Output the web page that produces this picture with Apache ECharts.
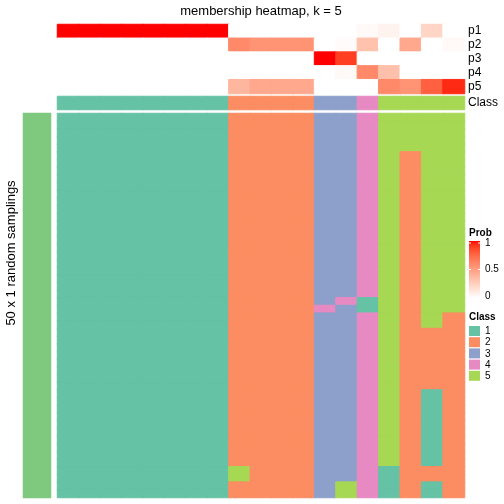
<!DOCTYPE html>
<html>
<head>
<meta charset="utf-8">
<script src="https://cdn.jsdelivr.net/npm/echarts@6/dist/echarts.min.js"></script>
<style>html,body{margin:0;padding:0;background:#fff;}#c{width:504px;height:504px;}</style>
</head>
<body>
<div id="c"></div>
<script>
// ---- data ----
const samples = ['1','2','3','4','5','6','7','8','9','10','11','12','13','14','15','16','17','18','19'];
const probNames = ['p1','p2','p3','p4','p5'];
const p1 = [1,1,1,1,1,1,1,1,0,0,0,0,0,0,0.03,0.06,0,0.22,0];
const p2 = [0,0,0,0,0,0,0,0,0.6,0.55,0.55,0.55,0,0.02,0.32,0,0.45,0,0.03];
const p3 = [0,0,0,0,0,0,0,0,0,0,0,0,1,0.9,0,0,0,0,0];
const p4 = [0,0,0,0,0,0,0,0,0,0,0,0,0,0.03,0.6,0.33,0,0,0];
const p5 = [0,0,0,0,0,0,0,0,0.38,0.45,0.45,0.45,0,0,0,0.6,0.55,0.78,0.95];
const classTop = [1,1,1,1,1,1,1,1,2,2,2,2,3,3,4,5,5,5,5];
const classLevels = ['1','2','3','4','5'];
// 50 random samplings (rows) x 19 samples (cols), class per cell
const membership = [
'1111111122223345555','1111111122223345555','1111111122223345555','1111111122223345555','1111111122223345555',
'1111111122223345255','1111111122223345255','1111111122223345255','1111111122223345255','1111111122223345255',
'1111111122223345255','1111111122223345255','1111111122223345255','1111111122223345255','1111111122223345255',
'1111111122223345255','1111111122223345255','1111111122223345255','1111111122223345255','1111111122223345255',
'1111111122223345255','1111111122223345255','1111111122223345255','1111111122223345255',
'1111111122223415255',
'1111111122224315255',
'1111111122223345252','1111111122223345252',
'1111111122223345222','1111111122223345222','1111111122223345222','1111111122223345222',
'1111111122223345222','1111111122223345222','1111111122223345222','1111111122223345222',
'1111111122223345212','1111111122223345212','1111111122223345212','1111111122223345212','1111111122223345212',
'1111111122223345212','1111111122223345212','1111111122223345212','1111111122223345212','1111111122223345212',
'1111111152223341222','1111111152223341222',
'1111111122223541212','1111111122223541212'
];
const rowNames = membership.map((_, i) => 'r' + (i + 1));
const leftAnno = ['top 1000 rows'];
const probTicks = ['1', '0.5', '0'];

// ---- styles ----
const classColors = ['#66C2A5', '#FC8D62', '#8DA0CB', '#E78AC3', '#A6D854'];
function lab2hex(L, a, b) {
  const fy = (L + 16) / 116, fx = fy + a / 500, fz = fy - b / 200;
  const d = 6 / 29;
  const fi = t => t > d ? t * t * t : 3 * d * d * (t - 4 / 29);
  const X = 0.95047 * fi(fx), Y = fi(fy), Z = 1.08883 * fi(fz);
  let r = 3.2406 * X - 1.5372 * Y - 0.4986 * Z;
  let g = -0.9689 * X + 1.8758 * Y + 0.0415 * Z;
  let bb = 0.0557 * X - 0.2040 * Y + 1.0570 * Z;
  const gm = c => { c = c <= 0.0031308 ? 12.92 * c : 1.055 * Math.pow(c, 1 / 2.4) - 0.055; return Math.max(0, Math.min(255, Math.round(c * 255))); };
  return '#' + [gm(r), gm(g), gm(bb)].map(v => v.toString(16).padStart(2, '0')).join('');
}
function probColor(t) { return lab2hex(100 + (53.2408 - 100) * t, 80.0925 * t, 67.2032 * t); }
const ramp = [];
for (let i = 0; i <= 20; i++) ramp.push(probColor(i / 20));

// ---- build series data (edge stroke = fill colour, hides anti-alias seams) ----
const probRows = [p1, p2, p3, p4, p5];
const probData = [];
probRows.forEach((row, r) => row.forEach((v, c) => probData.push({ value: [c, r, v], itemStyle: { borderColor: probColor(v), borderWidth: 1 } })));
const classTopData = classTop.map((v, c) => ({ value: [c, 0, v], itemStyle: { borderColor: classColors[v - 1], borderWidth: 1 } }));
const mainData = [];
membership.forEach((s, r) => s.split('').forEach((ch, c) => {
  const v = Number(ch);
  mainData.push({ value: [c, r, v], itemStyle: { borderColor: classColors[v - 1], borderWidth: 1 } });
}));

// grids are inset by half a pixel to compensate for the 1px edge stroke
const L = 57.5, W = 407;
const font = 'Liberation Sans, Arial, Helvetica, sans-serif';
function catAxis(idx, data, inverse) {
  return { type: 'category', gridIndex: idx, data: data, show: false, inverse: !!inverse, boundaryGap: true };
}

const chart = echarts.init(document.getElementById('c'), null, { renderer: 'canvas' });

const graphics = [];
graphics.push({ type: 'text', x: 261, y: 11, style: { text: 'membership heatmap, k = 5', font: '13px ' + font, fill: '#000', textAlign: 'center', textVerticalAlign: 'middle' } });
probNames.forEach((n, i) => graphics.push({ type: 'text', x: 468, y: 31 + i * 14, style: { text: n, font: '12px ' + font, fill: '#000', textAlign: 'left', textVerticalAlign: 'middle' } }));
graphics.push({ type: 'text', x: 468, y: 103, style: { text: 'Class', font: '12px ' + font, fill: '#000', textAlign: 'left', textVerticalAlign: 'middle' } });
graphics.push({ type: 'text', x: 11, y: 253, rotation: Math.PI / 2, style: { text: '50 x 1 random samplings', font: '13px ' + font, fill: '#000', textAlign: 'center', textVerticalAlign: 'middle' } });
graphics.push({ type: 'text', x: 37, y: 306, rotation: Math.PI / 2, style: { text: leftAnno[0], font: '10px ' + font, fill: '#000', textAlign: 'center', textVerticalAlign: 'middle' } });
// Prob legend
const LX = 469;
const barTop = 241, barH = 57, barW = 11;
graphics.push({ type: 'text', x: LX, y: 233, style: { text: 'Prob', font: 'bold 10px ' + font, fill: '#000', textAlign: 'left', textVerticalAlign: 'middle' } });
graphics.push({ type: 'rect', shape: { x: LX, y: barTop, width: barW, height: barH }, style: { fill: new echarts.graphic.LinearGradient(0, 0, 0, 1, ramp.slice().reverse().map((c, i) => ({ offset: i / 20, color: c }))) } });
probTicks.forEach((t, i) => {
  const y = barTop + 2 + i * (barH - 4) / 2;
  graphics.push({ type: 'line', shape: { x1: LX, y1: y, x2: LX + 2, y2: y }, style: { stroke: '#fff', lineWidth: 1 } });
  graphics.push({ type: 'line', shape: { x1: LX + barW - 2, y1: y, x2: LX + barW, y2: y }, style: { stroke: '#fff', lineWidth: 1 } });
  graphics.push({ type: 'text', x: LX + 16, y: y, style: { text: t, font: '10px ' + font, fill: '#000', textAlign: 'left', textVerticalAlign: 'middle' } });
});
// Class legend
graphics.push({ type: 'text', x: LX, y: 317, style: { text: 'Class', font: 'bold 10px ' + font, fill: '#000', textAlign: 'left', textVerticalAlign: 'middle' } });
classLevels.forEach((lv, i) => {
  const y = 326 + i * 11.2;
  graphics.push({ type: 'rect', shape: { x: LX, y: y, width: 11, height: 10 }, style: { fill: classColors[i] } });
  graphics.push({ type: 'text', x: LX + 16, y: y + 5.5, style: { text: lv, font: '10px ' + font, fill: '#000', textAlign: 'left', textVerticalAlign: 'middle' } });
});

chart.setOption({
  animation: false,
  backgroundColor: '#fff',
  grid: [
    { left: L, top: 24.5, width: W, height: 69 },
    { left: L, top: 96.5, width: W, height: 13 },
    { left: L, top: 113.5, width: W, height: 384 },
    { left: 23, top: 113, width: 28, height: 385 }
  ],
  xAxis: [catAxis(0, samples), catAxis(1, samples), catAxis(2, samples), catAxis(3, ['a'])],
  yAxis: [catAxis(0, probNames, true), catAxis(1, ['Class']), catAxis(2, rowNames, true), catAxis(3, leftAnno)],
  visualMap: [
    { type: 'continuous', show: false, seriesIndex: 0, min: 0, max: 1, dimension: 2, inRange: { color: ramp } },
    { type: 'piecewise', show: false, seriesIndex: [1, 2], dimension: 2, pieces: classLevels.map((lv, i) => ({ value: Number(lv), color: classColors[i] })) }
  ],
  series: [
    { type: 'heatmap', xAxisIndex: 0, yAxisIndex: 0, data: probData, emphasis: { disabled: true }, progressive: 0 },
    { type: 'heatmap', xAxisIndex: 1, yAxisIndex: 1, data: classTopData, emphasis: { disabled: true }, progressive: 0 },
    { type: 'heatmap', xAxisIndex: 2, yAxisIndex: 2, data: mainData, emphasis: { disabled: true }, progressive: 0 },
    { type: 'heatmap', xAxisIndex: 3, yAxisIndex: 3, data: [[0, 0, 1]], itemStyle: { color: '#7FC97F', borderWidth: 0 }, emphasis: { disabled: true } }
  ],
  graphic: graphics
});
</script>
</body>
</html>
